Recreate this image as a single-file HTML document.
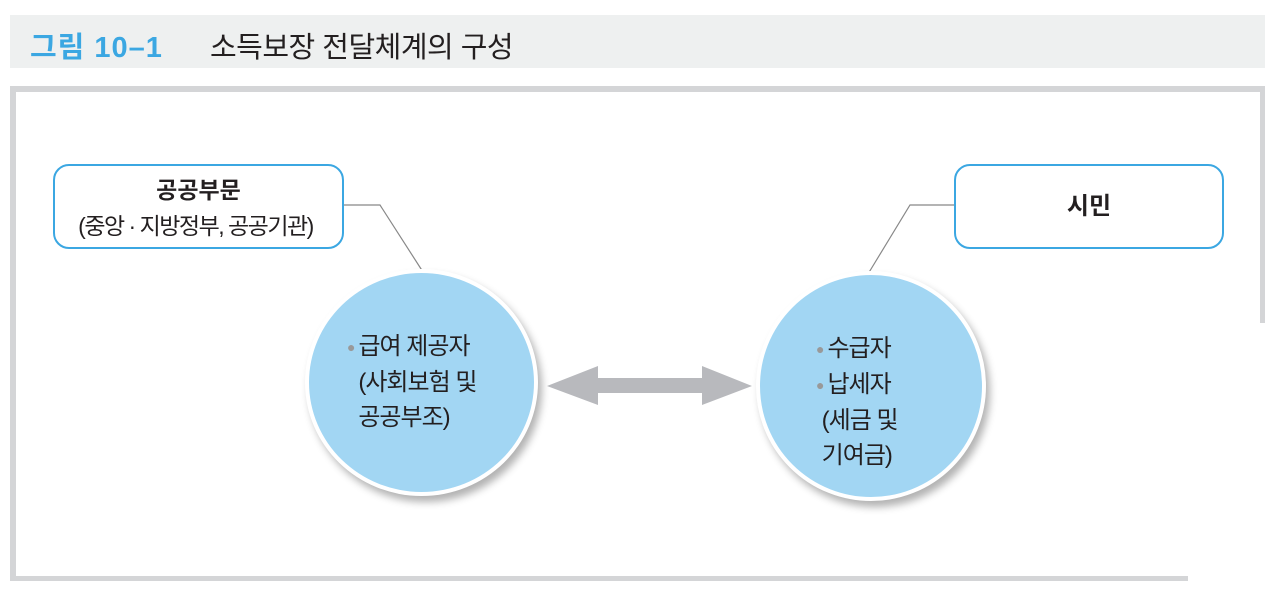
<!DOCTYPE html>
<html><head><meta charset="utf-8"><style>
body{margin:0;width:1280px;height:600px;background:#fff;position:relative;overflow:hidden;font-family:"Liberation Sans","Noto Sans CJK KR",sans-serif;color:#231f20}
.a{position:absolute}
.box{position:absolute;border:2px solid #3ba7e2;border-radius:16px;background:#fff;text-align:center;box-sizing:border-box}
.c{position:absolute;border-radius:50%;background:#a2d6f3;border:4px solid #fff;box-shadow:4px 6px 8px rgba(0,0,0,0.3);box-sizing:border-box;font-size:24px;line-height:35px;letter-spacing:-1px}
.dot{color:#999;font-size:14px;vertical-align:middle;margin-right:4px}
</style></head><body>
<div class="a" style="left:10px;top:15px;width:1255px;height:53px;background:#eef0f0"></div>
<div class="a" style="left:30px;top:24px;font-size:29px;color:#3ba7e2;font-weight:bold;letter-spacing:1px">그림 10–1</div>
<div class="a" style="left:210px;top:24px;font-size:29px;color:#231f20;letter-spacing:-0.5px">소득보장 전달체계의 구성</div>
<div class="a" style="left:10px;top:86px;width:1255px;height:6px;background:#d4d5d7"></div>
<div class="a" style="left:10px;top:86px;width:6px;height:495px;background:#d4d5d7"></div>
<div class="a" style="left:1260px;top:86px;width:5px;height:237px;background:#d4d5d7"></div>
<div class="a" style="left:10px;top:576px;width:1178px;height:5px;background:#d4d5d7"></div>
<svg class="a" style="left:0;top:0" width="1280" height="600">
<polyline points="343,205 380,205 423,272" fill="none" stroke="#888" stroke-width="1.2"/>
<polyline points="868,274 910,205 954,205" fill="none" stroke="#888" stroke-width="1.2"/>
<polygon points="547,386 598,366 598,378 702,378 702,366 752,386 702,405 702,393 598,393 598,405" fill="#b8b9bd"/>
</svg>
<div class="box" style="left:53px;top:164px;width:291px;height:85px;padding-top:6px;font-size:23px;line-height:36px"><b>공공부문</b><br><span style="letter-spacing:-1.5px;margin-left:-6px">(중앙 · 지방정부, 공공기관)</span></div>
<div class="box" style="left:954px;top:164px;width:270px;height:85px;font-size:24px;line-height:81px"><b>시민</b></div>
<div class="c" style="left:305px;top:269px;width:233px;height:227px;padding:56px 0 0 38px"><span class="dot">●</span>급여 제공자<br>&nbsp;&nbsp;(사회보험 및<br>&nbsp;&nbsp;공공부조)</div>
<div class="c" style="left:756px;top:271px;width:230px;height:230px;padding:56px 0 0 56px"><span class="dot">●</span>수급자<br><span class="dot">●</span>납세자<br>&nbsp;(세금 및<br>&nbsp;기여금)</div>
</body></html>
